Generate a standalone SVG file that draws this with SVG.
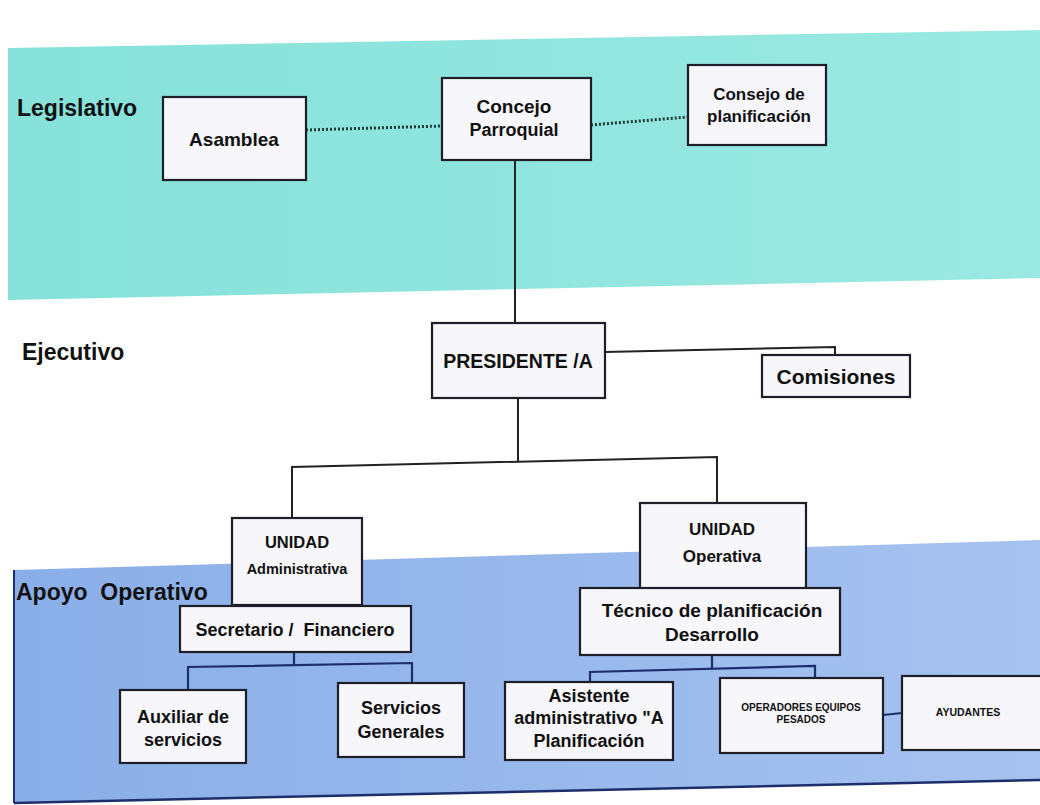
<svg xmlns="http://www.w3.org/2000/svg" width="1040" height="805" viewBox="0 0 1040 805">
<defs>
<linearGradient id="teal" x1="0" y1="0" x2="1" y2="0">
<stop offset="0" stop-color="#86e2da"/>
<stop offset="1" stop-color="#9ae9e2"/>
</linearGradient>
<linearGradient id="blue" x1="0" y1="0" x2="1" y2="0">
<stop offset="0" stop-color="#8aaee8"/>
<stop offset="1" stop-color="#a6c2f0"/>
</linearGradient>
</defs>
<style>
.box{fill:#f7f6fa;stroke:#1e1e28;stroke-width:2.2}
.t{font-family:"Liberation Sans",Arial,sans-serif;font-weight:bold;fill:#111;text-anchor:middle}
.lab{font-family:"Liberation Sans",Arial,sans-serif;font-weight:bold;fill:#111}
.ln{stroke:#222;stroke-width:2;fill:none}
.dot{stroke:#1f3a3a;stroke-width:3;stroke-dasharray:2 2;fill:none}
.blu{stroke:#1d2f6a;stroke-width:2.2;fill:none}
</style>
<rect width="1040" height="805" fill="#ffffff"/>
<polygon points="8,48 1040,30 1040,278 8,300" fill="url(#teal)"/>
<polygon points="14,570 1040,540 1040,780 14,803" fill="url(#blue)"/>
<line x1="14" y1="570" x2="14" y2="803" stroke="#1d2f6a" stroke-width="2"/>
<line x1="14" y1="803" x2="1040" y2="780" stroke="#1d2f6a" stroke-width="2.5"/>

<text class="lab" x="17" y="116" font-size="23">Legislativo</text>
<text class="lab" x="22" y="360" font-size="23">Ejecutivo</text>
<text class="lab" x="16" y="600" font-size="23" xml:space="preserve" style="white-space:pre">Apoyo  Operativo</text>

<g id="connectors">
<path class="dot" d="M306,130 L442,126"/>
<path class="dot" d="M591,125 L688,117" stroke-width="2"/>
<path class="ln" d="M515,160 L515,323"/>
<path class="ln" d="M605,352 L835,347 L835,355"/>
<path class="ln" d="M518,398 L518,461"/>
<path class="ln" d="M292,520 L292,467 L717,457 L717,503"/>
<path class="blu" d="M294,605 L294,606"/>
<path class="blu" d="M294,652 L294,665"/>
<path class="blu" d="M188,690 L188,667 L412,663 L412,683"/>
<path class="blu" d="M714,590 L714,588"/>
<path class="blu" d="M712,655 L712,669"/>
<path class="blu" d="M590,682 L590,672 L815,666 L815,678"/>
<path class="blu" d="M883,715 L902,713"/>
</g>

<g id="asamblea"><rect class="box" x="163" y="97" width="143" height="83"/><text class="t" x="234" y="146" font-size="19">Asamblea</text></g>
<g id="concejo"><rect class="box" x="442" y="78" width="149" height="82"/><text class="t" x="514" y="113" font-size="19">Concejo</text><text class="t" x="514" y="136" font-size="18">Parroquial</text></g>
<g id="consejo"><rect class="box" x="688" y="65" width="138" height="80"/><text class="t" x="759" y="100" font-size="17">Consejo de</text><text class="t" x="759" y="122" font-size="17">planificación</text></g>
<g id="presidente"><rect class="box" x="432" y="323" width="173" height="75"/><text class="t" x="518" y="368" font-size="19.5">PRESIDENTE /A</text></g>
<g id="comisiones"><rect class="box" x="762" y="355" width="148" height="42"/><text class="t" x="836" y="384" font-size="21" font-weight="normal">Comisiones</text></g>
<g id="unidad-admin"><rect class="box" x="232" y="518" width="130" height="87"/><text class="t" x="297" y="548" font-size="16.5">UNIDAD</text><text class="t" x="297" y="574" font-size="14.5">Administrativa</text></g>
<g id="unidad-oper"><rect class="box" x="640" y="503" width="166" height="87"/><text class="t" x="722" y="535" font-size="17">UNIDAD</text><text class="t" x="722" y="562" font-size="17">Operativa</text></g>
<g id="secretario"><rect class="box" x="180" y="606" width="231" height="46"/><text class="t" x="295" y="636" font-size="18" xml:space="preserve" style="white-space:pre">Secretario /  Financiero</text></g>
<g id="auxiliar"><rect class="box" x="120" y="690" width="126" height="73"/><text class="t" x="183" y="723" font-size="18">Auxiliar de</text><text class="t" x="183" y="746" font-size="18">servicios</text></g>
<g id="servicios"><rect class="box" x="338" y="683" width="126" height="74"/><text class="t" x="401" y="714" font-size="18">Servicios</text><text class="t" x="401" y="738" font-size="18">Generales</text></g>
<g id="tecnico"><rect class="box" x="580" y="588" width="260" height="67"/><text class="t" x="712" y="617" font-size="19">Técnico de planificación</text><text class="t" x="712" y="641" font-size="19">Desarrollo</text></g>
<g id="asistente"><rect class="box" x="505" y="682" width="168" height="78"/><text class="t" x="589" y="702" font-size="18">Asistente</text><text class="t" x="589" y="724" font-size="18">administrativo "A</text><text class="t" x="589" y="747" font-size="18">Planificación</text></g>
<g id="operadores"><rect class="box" x="720" y="678" width="163" height="75"/><text class="t" x="801" y="711" font-size="10" font-weight="normal">OPERADORES EQUIPOS</text><text class="t" x="801" y="723" font-size="10" font-weight="normal">PESADOS</text></g>
<g id="ayudantes"><rect class="box" x="902" y="676" width="145" height="74"/><text class="t" x="968" y="716" font-size="10.5" font-weight="normal">AYUDANTES</text></g>
</svg>
